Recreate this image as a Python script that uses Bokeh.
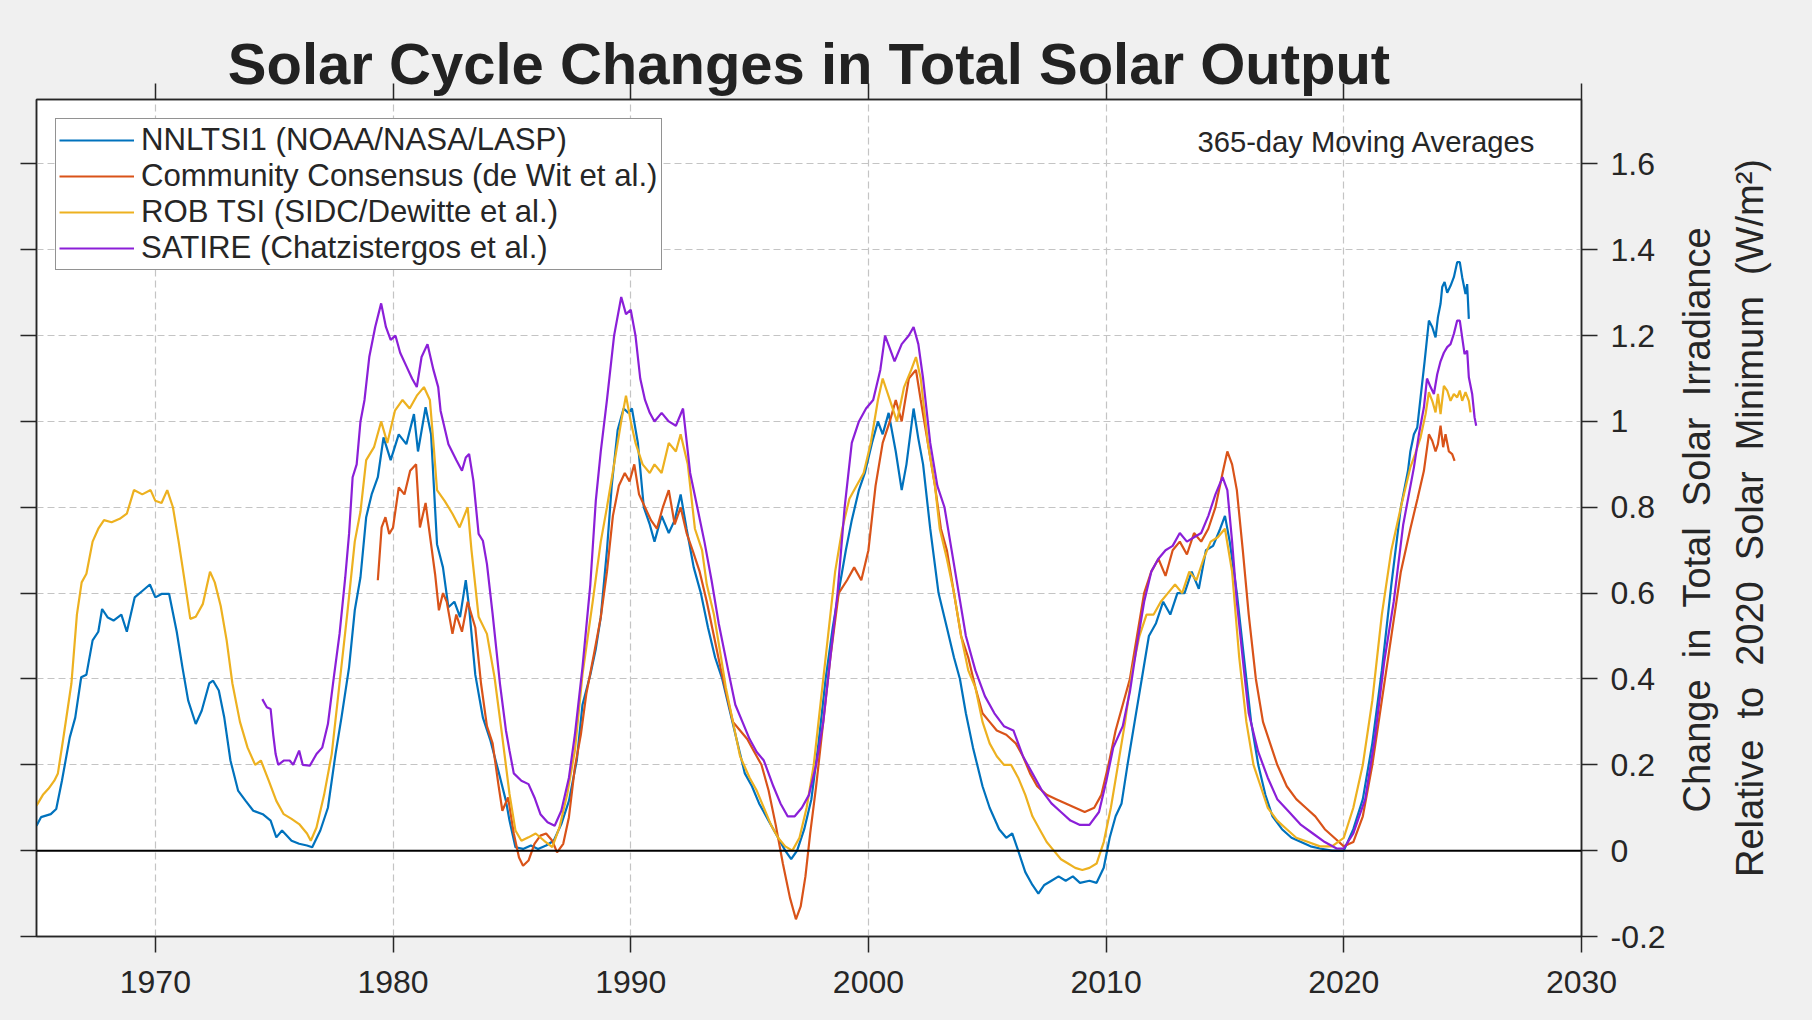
import math, json
from bokeh.plotting import figure
from bokeh.models import (Range1d, FixedTicker, LinearAxis, Span, Label,
                          CustomJSTickFormatter)
from bokeh.embed import file_html
from bokeh.resources import INLINE

# ---------------- data ----------------
X_TICKS = [1970, 1980, 1990, 2000, 2010, 2020, 2030]
Y_TICKS = [-0.2, 0, 0.2, 0.4, 0.6, 0.8, 1.0, 1.2, 1.4, 1.6]

names = ["NNLTSI1 (NOAA/NASA/LASP)", "Community Consensus (de Wit et al.)",
         "ROB TSI (SIDC/Dewitte et al.)", "SATIRE (Chatzistergos et al.)"]

nnl_year = [1965.0, 1965.19, 1965.6, 1965.83, 1966.07, 1966.4, 1966.63, 1966.88, 1967.1, 1967.36, 1967.6, 1967.76,
            1968.0, 1968.24, 1968.57, 1968.8, 1969.13, 1969.45, 1969.77, 1970.0, 1970.26, 1970.58, 1970.9, 1971.14,
            1971.38, 1971.7, 1971.95, 1972.27, 1972.43, 1972.67, 1972.9, 1973.16, 1973.48, 1973.8, 1974.12, 1974.52,
            1974.85, 1975.09, 1975.33, 1975.73, 1976.05, 1976.38, 1976.6, 1976.94, 1977.26, 1977.58, 1977.83, 1978.15,
            1978.39, 1978.63, 1978.87, 1979.1, 1979.36, 1979.6, 1979.9, 1980.24, 1980.56, 1980.88, 1981.05, 1981.37,
            1981.6, 1981.85, 1982.1, 1982.33, 1982.58, 1982.82, 1983.06, 1983.2, 1983.46, 1983.78, 1984.1, 1984.43,
            1984.75, 1984.9, 1985.15, 1985.47, 1985.8, 1986.1, 1986.44, 1986.76, 1987.08, 1987.4, 1987.73, 1987.97,
            1988.3, 1988.53, 1988.74,
            1989.0, 1989.2, 1989.45, 1989.7, 1989.9, 1990.05, 1990.3, 1990.55, 1990.8, 1991.0, 1991.3, 1991.6,
            1991.85, 1992.1, 1992.35, 1992.65, 1992.95, 1993.25, 1993.55, 1993.85, 1994.15, 1994.45, 1994.8, 1995.1,
            1995.4, 1995.8, 1996.2, 1996.5, 1996.75, 1997.0, 1997.3, 1997.6, 1997.9, 1998.2, 1998.5, 1998.8,
            1999.05, 1999.3, 1999.6, 1999.85, 2000.15, 2000.4, 2000.6, 2000.85, 2001.15, 2001.4, 2001.6, 2001.9,
            2002.1, 2002.3, 2002.6, 2002.95, 2003.3, 2003.6, 2003.85, 2004.1, 2004.4, 2004.8, 2005.1, 2005.5,
            2005.8, 2006.05, 2006.3, 2006.6, 2006.9, 2007.15, 2007.4, 2007.7, 2008.0, 2008.3, 2008.6, 2008.9,
            2009.3, 2009.6, 2009.9, 2010.15, 2010.4, 2010.65, 2010.9, 2011.2, 2011.5, 2011.8, 2012.1, 2012.4,
            2012.7, 2013.0, 2013.3, 2013.6, 2013.9, 2014.2, 2014.5, 2014.8, 2015.0, 2015.2, 2015.5, 2015.8,
            2016.1, 2016.4, 2016.7, 2017.0, 2017.4, 2017.8, 2018.2, 2018.6, 2019.0, 2019.5, 2020.0, 2020.4,
            2020.8, 2021.2, 2021.6, 2022.0, 2022.4, 2022.7,
            2022.8, 2022.95, 2023.09, 2023.23, 2023.4, 2023.58, 2023.72, 2023.86, 2023.96, 2024.07, 2024.14, 2024.24,
            2024.35, 2024.49, 2024.63, 2024.77, 2024.88, 2024.98, 2025.12, 2025.19, 2025.26]
nnl_val = [0.058, 0.078, 0.085, 0.097, 0.163, 0.264, 0.31, 0.404, 0.41, 0.49, 0.51, 0.563,
           0.543, 0.536, 0.55, 0.51, 0.59, 0.605, 0.62, 0.59, 0.598, 0.598, 0.51, 0.427,
           0.35, 0.295, 0.326, 0.39, 0.396, 0.373, 0.31, 0.21, 0.14, 0.116, 0.093, 0.085,
           0.07, 0.031, 0.047, 0.023, 0.016, 0.012, 0.008, 0.047, 0.1, 0.225, 0.31, 0.427,
           0.56, 0.637, 0.777, 0.83, 0.87, 0.963, 0.91, 0.97, 0.947, 1.017, 0.93, 1.033,
           0.97, 0.714, 0.66, 0.567, 0.58, 0.544, 0.63, 0.567, 0.41, 0.31, 0.256, 0.186,
           0.116, 0.07, 0.008, 0.004, 0.012, 0.004, 0.012, 0.023, 0.062, 0.116, 0.21, 0.34,
           0.41, 0.47, 0.544,
           0.7, 0.85, 0.98, 1.03, 1.02, 1.03, 0.95, 0.8, 0.76, 0.72, 0.78, 0.74,
           0.77, 0.83, 0.75, 0.66, 0.6, 0.52, 0.45, 0.4, 0.33, 0.26, 0.18, 0.15,
           0.11, 0.07, 0.03, 0.0, -0.02, 0.0, 0.05, 0.12, 0.25, 0.4, 0.52, 0.62,
           0.7, 0.77, 0.84, 0.88, 0.95, 1.0, 0.97, 1.02, 0.93, 0.84, 0.9, 1.03,
           0.96, 0.9, 0.75, 0.6, 0.52, 0.45, 0.4, 0.32, 0.24, 0.15, 0.1, 0.05,
           0.03, 0.04, 0.0, -0.05, -0.08, -0.1, -0.08, -0.07, -0.06, -0.07, -0.06, -0.075,
           -0.07, -0.075, -0.04, 0.03, 0.08, 0.11, 0.2, 0.3, 0.4, 0.5, 0.53, 0.58,
           0.55, 0.6, 0.6, 0.65, 0.61, 0.7, 0.71, 0.75, 0.78, 0.72, 0.6, 0.45,
           0.3, 0.2, 0.13, 0.08, 0.05, 0.03, 0.02, 0.01, 0.005, 0.0, 0.0, 0.05,
           0.12, 0.25, 0.42, 0.62, 0.8, 0.885,
           0.93, 0.97, 0.986, 1.056, 1.14, 1.235, 1.22, 1.196, 1.243, 1.274, 1.313, 1.325,
           1.30, 1.316, 1.336, 1.371, 1.371, 1.336, 1.297, 1.32, 1.239]

cc_year = [1979.36, 1979.52, 1979.68, 1979.84, 1980.0, 1980.24, 1980.48, 1980.72, 1980.97, 1981.13, 1981.37, 1981.6,
           1981.77, 1981.93, 1982.1, 1982.26, 1982.5, 1982.66, 1982.9, 1983.14, 1983.46, 1983.7, 1983.95, 1984.19,
           1984.43, 1984.6, 1984.84, 1985.08, 1985.3, 1985.47, 1985.7, 1985.95, 1986.2, 1986.44, 1986.7, 1986.9,
           1987.16, 1987.4, 1987.65, 1987.9, 1988.13, 1988.46, 1988.74,
           1989.0, 1989.25, 1989.5, 1989.75, 1989.95, 1990.15, 1990.35, 1990.6, 1990.85, 1991.1, 1991.35, 1991.6,
           1991.85, 1992.1, 1992.35, 1992.6, 1992.9, 1993.2, 1993.5, 1993.8, 1994.05, 1994.3, 1994.6, 1994.9,
           1995.2, 1995.5, 1995.8, 1996.1, 1996.4, 1996.7, 1996.95, 1997.15, 1997.35, 1997.55, 1997.8, 1998.1,
           1998.4, 1998.75, 1999.1, 1999.4, 1999.7, 2000.0, 2000.3, 2000.6, 2000.9, 2001.15, 2001.4, 2001.7,
           2002.0, 2002.2, 2002.5, 2002.8, 2003.05, 2003.3, 2003.6, 2003.9, 2004.2, 2004.5, 2004.8, 2005.1,
           2005.4, 2005.8, 2006.2, 2006.5, 2006.8, 2007.1, 2007.5, 2007.9, 2008.3, 2008.7, 2009.1, 2009.5,
           2009.8, 2010.1, 2010.4, 2010.7, 2011.0, 2011.3, 2011.6, 2011.9, 2012.2, 2012.5, 2012.8, 2013.1,
           2013.4, 2013.7, 2014.0, 2014.3, 2014.6, 2014.9, 2015.1, 2015.3, 2015.5, 2015.75, 2016.0, 2016.3,
           2016.6, 2016.9, 2017.2, 2017.6, 2018.0, 2018.4, 2018.8, 2019.2, 2019.6, 2020.0, 2020.4, 2020.8,
           2021.2, 2021.6, 2022.0, 2022.4, 2022.8, 2023.1,
           2023.37, 2023.58, 2023.72, 2023.86, 2023.96, 2024.07, 2024.18, 2024.28, 2024.42, 2024.56, 2024.66]
cc_val = [0.63, 0.753, 0.777, 0.738, 0.753, 0.846, 0.83, 0.885, 0.9, 0.753, 0.81, 0.714,
          0.644, 0.56, 0.6, 0.58, 0.505, 0.55, 0.51, 0.58, 0.52, 0.39, 0.29, 0.25,
          0.155, 0.093, 0.124, 0.04, -0.016, -0.035, -0.023, 0.016, 0.035, 0.04, 0.023, -0.004,
          0.016, 0.078, 0.194, 0.27, 0.365, 0.46, 0.544,
          0.65, 0.78, 0.85, 0.88, 0.86, 0.9, 0.83, 0.8, 0.77, 0.75, 0.8, 0.84,
          0.76, 0.8, 0.74, 0.7, 0.65, 0.58, 0.5, 0.42, 0.36, 0.3, 0.28, 0.26,
          0.23, 0.2, 0.14, 0.06, -0.03, -0.11, -0.16, -0.13, -0.06, 0.04, 0.15, 0.3,
          0.45, 0.6, 0.63, 0.66, 0.63, 0.7, 0.85, 0.95, 1.0, 1.05, 1.0, 1.1,
          1.12, 1.05, 0.95, 0.85, 0.75, 0.7, 0.6, 0.5, 0.45, 0.38, 0.32, 0.3,
          0.28, 0.27, 0.25, 0.22, 0.18, 0.15, 0.13, 0.12, 0.11, 0.1, 0.09, 0.1,
          0.13, 0.2, 0.28, 0.34, 0.4, 0.5, 0.6, 0.65, 0.68, 0.64, 0.7, 0.72,
          0.69, 0.74, 0.72, 0.75, 0.8, 0.88, 0.93, 0.9, 0.84, 0.7, 0.55, 0.4,
          0.3, 0.25, 0.2, 0.15, 0.12, 0.1, 0.08, 0.05, 0.03, 0.01, 0.02, 0.08,
          0.2, 0.35, 0.5, 0.65, 0.75, 0.82,
          0.885, 0.97, 0.955, 0.93, 0.947, 0.99, 0.94, 0.97, 0.93, 0.924, 0.908]

rob_year = [1965.0, 1965.27, 1965.5, 1965.75, 1965.9, 1966.15, 1966.47, 1966.7, 1966.9, 1967.1, 1967.36, 1967.6,
            1967.84, 1968.16, 1968.5, 1968.8, 1969.1, 1969.45, 1969.8, 1970.0, 1970.26, 1970.5, 1970.74, 1970.98,
            1971.2, 1971.47, 1971.7, 1972.0, 1972.3, 1972.5, 1972.75, 1973.0, 1973.24, 1973.56, 1973.88, 1974.2,
            1974.44, 1974.77, 1975.09, 1975.4, 1975.73, 1976.05, 1976.38, 1976.54, 1976.78, 1977.1, 1977.42, 1977.75,
            1978.07, 1978.39, 1978.63, 1978.87, 1979.2, 1979.5, 1979.76, 1980.08, 1980.4, 1980.7, 1981.0, 1981.3,
            1981.55, 1981.7, 1981.85, 1982.17, 1982.5, 1982.8, 1983.14, 1983.3, 1983.6, 1983.95, 1984.27, 1984.6,
            1984.9, 1985.15, 1985.4, 1985.7, 1986.0, 1986.36, 1986.7, 1987.0, 1987.33, 1987.65, 1987.97, 1988.4,
            1988.74,
            1989.0, 1989.3, 1989.6, 1989.8, 1990.0, 1990.2, 1990.5, 1990.8, 1991.0, 1991.3, 1991.6, 1991.9,
            1992.1, 1992.4, 1992.7, 1993.0, 1993.2, 1993.5, 1993.8, 1994.0, 1994.3, 1994.6, 1995.0, 1995.3,
            1995.6, 1995.9, 1996.2, 1996.5, 1996.8, 1997.1, 1997.4, 1997.7, 1998.0, 1998.3, 1998.6, 1998.9,
            1999.2, 1999.5, 1999.8, 2000.1, 2000.4, 2000.6, 2000.9, 2001.2, 2001.5, 2001.8, 2002.0, 2002.2,
            2002.5, 2002.8, 2003.0, 2003.3, 2003.6, 2003.9, 2004.2, 2004.5, 2004.8, 2005.1, 2005.4, 2005.7,
            2006.0, 2006.3, 2006.6, 2006.9, 2007.2, 2007.5, 2007.8, 2008.1, 2008.4, 2008.7, 2009.0, 2009.3,
            2009.6, 2009.9, 2010.2, 2010.5, 2010.8, 2011.1, 2011.4, 2011.7, 2012.0, 2012.3, 2012.6, 2012.9,
            2013.2, 2013.5, 2013.8, 2014.1, 2014.4, 2014.7, 2015.0, 2015.3, 2015.6, 2015.9, 2016.2, 2016.5,
            2016.8, 2017.2, 2017.6, 2018.0, 2018.5, 2019.0, 2019.5, 2020.0, 2020.4, 2020.8, 2021.2, 2021.6,
            2022.0, 2022.4,
            2022.8, 2023.0, 2023.23, 2023.44, 2023.58, 2023.72, 2023.86, 2023.96, 2024.07, 2024.21, 2024.35, 2024.49,
            2024.63, 2024.77, 2024.88, 2024.98, 2025.12, 2025.26, 2025.33]
rob_val = [0.105, 0.13, 0.144, 0.163, 0.18, 0.27, 0.39, 0.55, 0.625, 0.645, 0.72, 0.75,
           0.77, 0.765, 0.773, 0.785, 0.84, 0.83, 0.84, 0.815, 0.81, 0.84, 0.8, 0.72,
           0.64, 0.54, 0.545, 0.575, 0.65, 0.625, 0.57, 0.49, 0.39, 0.3, 0.24, 0.2,
           0.21, 0.163, 0.116, 0.085, 0.074, 0.062, 0.04, 0.023, 0.054, 0.13, 0.225, 0.39,
           0.55, 0.72, 0.79, 0.91, 0.94, 1.0, 0.95, 1.025, 1.05, 1.03, 1.06, 1.08,
           1.05, 0.95, 0.84, 0.815, 0.785, 0.753, 0.8, 0.7, 0.545, 0.505, 0.404, 0.264,
           0.132, 0.047, 0.023, 0.031, 0.04, 0.023, 0.008, 0.054, 0.132, 0.233, 0.41, 0.58,
           0.72,
           0.8, 0.9, 1.0, 1.06, 1.0, 0.95, 0.9, 0.88, 0.9, 0.88, 0.95, 0.93,
           0.97, 0.9, 0.75, 0.7, 0.62, 0.55, 0.45, 0.38, 0.3, 0.22, 0.17, 0.14,
           0.1, 0.06, 0.03, 0.01, 0.0, 0.03, 0.1, 0.2, 0.35, 0.5, 0.65, 0.75,
           0.82, 0.85, 0.88, 0.95, 1.05, 1.1, 1.05, 1.0, 1.08, 1.12, 1.15, 1.1,
           0.95, 0.85, 0.75, 0.68, 0.6, 0.5, 0.42, 0.38, 0.3, 0.25, 0.22, 0.2,
           0.2, 0.17, 0.13, 0.08, 0.05, 0.02, 0.0, -0.02, -0.03, -0.04, -0.045, -0.04,
           -0.03, 0.02, 0.1, 0.2, 0.3, 0.42, 0.5, 0.55, 0.55, 0.58, 0.6, 0.62,
           0.6, 0.65, 0.63, 0.68, 0.72, 0.73, 0.75, 0.65, 0.45, 0.3, 0.2, 0.15,
           0.1, 0.07, 0.05, 0.03, 0.02, 0.01, 0.01, 0.03, 0.1, 0.2, 0.35, 0.55,
           0.7, 0.8,
           0.893, 0.924, 0.963, 1.017, 1.068, 1.048, 1.021, 1.064, 1.017, 1.083, 1.072, 1.048,
           1.064, 1.056, 1.072, 1.048, 1.068, 1.048, 1.021]

sat_year = [1974.5, 1974.69, 1974.85, 1974.96, 1975.06, 1975.17, 1975.4, 1975.65, 1975.8, 1976.05, 1976.2, 1976.5,
            1976.78, 1977.02, 1977.26, 1977.5, 1977.75, 1977.99, 1978.15, 1978.3, 1978.47, 1978.63, 1978.8, 1979.0,
            1979.25, 1979.5, 1979.7, 1979.9, 1980.1, 1980.3, 1980.55, 1980.8, 1981.0, 1981.2, 1981.45, 1981.7,
            1981.9, 1982.0, 1982.33, 1982.66, 1982.9, 1983.06, 1983.2, 1983.38, 1983.6, 1983.78, 1983.95, 1984.19,
            1984.5, 1984.75, 1984.9, 1985.08, 1985.4, 1985.7, 1985.95, 1986.2, 1986.5, 1986.8, 1987.08, 1987.4,
            1987.65, 1987.97, 1988.3, 1988.53, 1988.74,
            1989.0, 1989.3, 1989.6, 1989.8, 1990.0, 1990.2, 1990.4, 1990.6, 1990.8, 1991.0, 1991.3, 1991.6,
            1991.9, 1992.2, 1992.5, 1992.8, 1993.1, 1993.4, 1993.7, 1994.1, 1994.4, 1994.7, 1995.0, 1995.3,
            1995.6, 1996.0, 1996.3, 1996.6, 1996.9, 1997.2, 1997.5, 1997.8, 1998.1, 1998.4, 1998.7, 1999.0,
            1999.3, 1999.6, 1999.9, 2000.2, 2000.5, 2000.7, 2000.9, 2001.1, 2001.4, 2001.7, 2001.9, 2002.1,
            2002.3, 2002.6, 2002.9, 2003.2, 2003.5, 2003.8, 2004.1, 2004.5, 2004.9, 2005.3, 2005.7, 2006.1,
            2006.5, 2006.9, 2007.3, 2007.7, 2008.1, 2008.5, 2008.9, 2009.3, 2009.7, 2010.0, 2010.3, 2010.7,
            2011.0, 2011.3, 2011.6, 2011.9, 2012.2, 2012.5, 2012.8, 2013.1, 2013.4, 2013.7, 2014.0, 2014.3,
            2014.6, 2014.9, 2015.1, 2015.3, 2015.5, 2015.8, 2016.0, 2016.4, 2016.8, 2017.2, 2017.7, 2018.2,
            2018.7, 2019.2, 2019.7, 2020.0, 2020.4, 2020.9, 2021.3, 2021.7, 2022.1, 2022.5,
            2022.95, 2023.16, 2023.37, 2023.5, 2023.65, 2023.79, 2023.93, 2024.07, 2024.21, 2024.35, 2024.49, 2024.63,
            2024.77, 2024.88, 2024.98, 2025.08, 2025.19, 2025.26, 2025.4, 2025.5, 2025.57]
sat_val = [0.353, 0.334, 0.33, 0.27, 0.225, 0.2, 0.21, 0.21, 0.2, 0.233, 0.2, 0.198,
           0.225, 0.24, 0.295, 0.4, 0.505, 0.637, 0.738, 0.87, 0.9, 1.0, 1.05, 1.15,
           1.22, 1.275, 1.22, 1.19, 1.2, 1.16, 1.13, 1.1, 1.08, 1.15, 1.18, 1.12,
           1.08, 1.025, 0.947, 0.91, 0.885, 0.916, 0.924, 0.862, 0.738, 0.722, 0.668, 0.551,
           0.388, 0.28, 0.233, 0.18, 0.163, 0.155, 0.124, 0.085, 0.066, 0.058, 0.093, 0.17,
           0.27, 0.427, 0.62, 0.815, 0.93,
           1.05, 1.2, 1.29, 1.25, 1.26, 1.2, 1.1, 1.05, 1.02, 1.0, 1.02, 1.0,
           0.99, 1.03, 0.88, 0.8, 0.72, 0.63, 0.53, 0.42, 0.34, 0.3, 0.26, 0.23,
           0.21, 0.15, 0.11, 0.08, 0.08, 0.1, 0.13, 0.2, 0.3, 0.45, 0.6, 0.8,
           0.95, 1.0, 1.03, 1.05, 1.12, 1.2, 1.17, 1.14, 1.18, 1.2, 1.22, 1.18,
           1.1, 0.95, 0.85, 0.8, 0.7, 0.6, 0.5, 0.42, 0.36, 0.32, 0.29, 0.28,
           0.22, 0.18, 0.14, 0.11, 0.09, 0.07, 0.06, 0.06, 0.09, 0.16, 0.24, 0.29,
           0.37, 0.48, 0.58, 0.65, 0.68, 0.7, 0.71, 0.74, 0.72, 0.73, 0.74, 0.78,
           0.83, 0.87, 0.84, 0.72, 0.58, 0.42, 0.32, 0.23, 0.17, 0.12, 0.09, 0.06,
           0.04, 0.02, 0.005, 0.005, 0.04, 0.12, 0.26, 0.44, 0.58, 0.76,
           0.893, 0.97, 1.033, 1.10, 1.08, 1.064, 1.11, 1.14, 1.16, 1.173, 1.18, 1.204,
           1.235, 1.235, 1.196, 1.157, 1.165, 1.103, 1.064, 1.01, 0.99]

# ---------------- styling ----------------
FONT = "Liberation Sans"
INK = "#262626"
COLORS = ["#0072BD", "#D95319", "#EDB120", "#8B1FD8"]

W, H = 1796, 1004
ML, MR, MT, MB = 36, 215, 99, 68
FW, FH = W - ML - MR, H - MT - MB
Y0, Y1 = -0.2, 1.75
PX_PER_UNIT = FH / (Y1 - Y0)

p = figure(width=W, height=H, output_backend="svg", toolbar_location=None,
           x_range=Range1d(1965, 2030), y_range=Range1d(Y0, Y1),
           y_axis_location="right",
           min_border_left=ML, min_border_right=MR, min_border_top=MT, min_border_bottom=MB)
p.background_fill_color = "white"
p.border_fill_color = "#f0f0f0"
p.outline_line_color = INK
p.outline_line_width = 1.5

p.title.text = "Solar Cycle Changes in Total Solar Output"
p.title.align = "center"
p.title.text_font = FONT
p.title.text_font_size = "58px"
p.title.text_font_style = "bold"
p.title.text_color = "#222222"
p.title.standoff = -24

p.add_layout(LinearAxis(), "left")
p.add_layout(LinearAxis(), "above")

blank = CustomJSTickFormatter(code="return ''")
for ax in p.xaxis:
    ax.ticker = FixedTicker(ticks=X_TICKS)
for ax in p.yaxis:
    ax.ticker = FixedTicker(ticks=Y_TICKS)

for ax in list(p.xaxis) + list(p.yaxis):
    ax.axis_line_color = INK
    ax.axis_line_width = 1.5
    ax.major_tick_line_color = INK
    ax.major_tick_line_width = 1.5
    ax.major_tick_out = 16
    ax.major_tick_in = 0
    ax.minor_tick_line_color = None
    ax.major_label_text_font = FONT
    ax.major_label_text_font_size = "32px"
    ax.major_label_text_color = INK

p.below[0].formatter = CustomJSTickFormatter(code="return tick.toFixed(0)")
p.below[0].major_label_standoff = 18
yax = p.right[0]
yax.formatter = CustomJSTickFormatter(code="return (Math.round(tick*10)/10).toString()")
yax.major_label_standoff = 13
for ax in (p.left[0], p.above[0]):
    ax.formatter = blank
    ax.major_label_standoff = 0
    ax.major_label_text_font_size = "0px"

# two-line y-axis title, reading bottom-to-top, built from label-only axes
sp = " \u00a0"
ylab_lines = [sp.join(["Change", "in", "Total", "Solar", "Irradiance"]),
              sp.join(["Relative", "to", "2020", "Solar", "Minimum", "(W/m\u00b2)"])]
ylab_len_px = [589, 718]          # rendered length of each line at 38px
ylab_standoff = [28, 8]
ymid = (Y0 + Y1) / 2
for text, L, so in zip(ylab_lines, ylab_len_px, ylab_standoff):
    start = ymid - (L / 2) / PX_PER_UNIT
    ax = LinearAxis(ticker=FixedTicker(ticks=[start]),
                    formatter=CustomJSTickFormatter(code="return " + json.dumps(text) + ";"))
    ax.axis_line_color = None
    ax.major_tick_line_color = None
    ax.minor_tick_line_color = None
    ax.major_tick_out = 0
    ax.major_tick_in = 0
    ax.major_label_orientation = math.pi / 2
    ax.major_label_standoff = so
    ax.major_label_text_font = FONT
    ax.major_label_text_font_size = "38px"
    ax.major_label_text_color = INK
    p.add_layout(ax, "right")

for g in (p.xgrid, p.ygrid):
    g.grid_line_color = "#c4c4c4"
    g.grid_line_dash = "7 4"
    g.grid_line_width = 1.2

p.add_layout(Span(location=0, dimension="width", line_color="black", line_width=2))

series = [(nnl_year, nnl_val), (cc_year, cc_val), (rob_year, rob_val), (sat_year, sat_val)]
for (xs, ys), name, col in zip(series, names, COLORS):
    p.line(xs, ys, line_color=col, line_width=2.2, legend_label=name)

lg = p.legend[0]
lg.location = "top_left"
lg.margin = 19
lg.padding = 3
lg.spacing = 0
lg.glyph_width = 75
lg.glyph_height = 30
lg.label_height = 30
lg.label_standoff = 7
lg.label_text_font = FONT
lg.label_text_font_size = "31.2px"
lg.label_text_color = INK
lg.border_line_color = INK
lg.border_line_width = 1.5
lg.background_fill_color = "white"
lg.background_fill_alpha = 1.0

p.add_layout(Label(x=FW - 45.5, y=FH - 42.5, x_units="screen", y_units="screen",
                   text="365-day Moving Averages", text_align="right",
                   text_baseline="alphabetic", text_font=FONT, text_font_size="29.2px",
                   text_color=INK))

html = file_html(p, INLINE)
html = html.replace("<head>", "<head><style>body{background:#f0f0f0;}</style>", 1)
open("out.html", "w").write(html)
